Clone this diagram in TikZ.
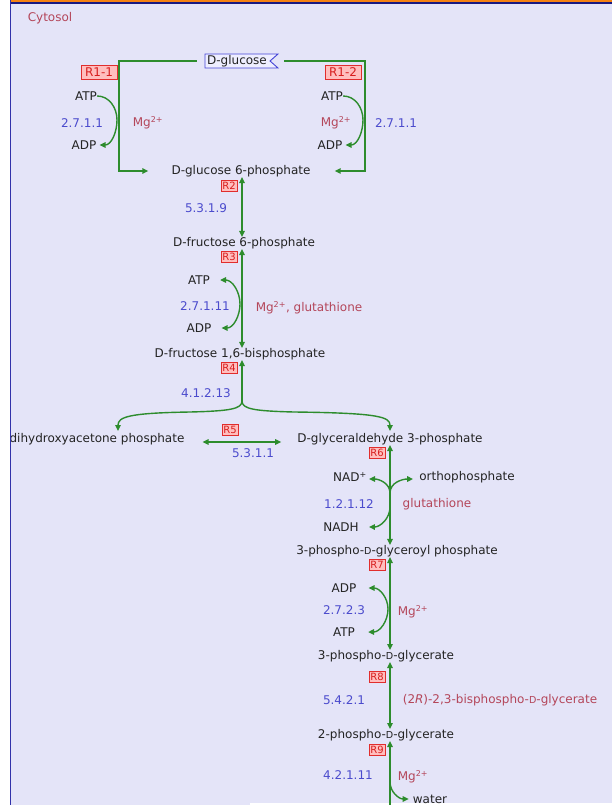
\documentclass[tikz,border=0pt]{standalone}
\usepackage{fontspec}
\setmainfont{DejaVu Sans}
\usetikzlibrary{arrows.meta}
\definecolor{bgc}{RGB}{228,228,248}
\definecolor{frameblue}{RGB}{50,50,170}
\definecolor{topblue}{RGB}{25,25,130}
\definecolor{toporange}{RGB}{245,130,20}
\definecolor{rxgreen}{RGB}{45,140,45}
\definecolor{ecblue}{RGB}{75,75,205}
\definecolor{cofred}{RGB}{180,70,90}
\definecolor{cpdtext}{RGB}{35,35,35}
\definecolor{rboxfill}{RGB}{255,190,190}
\definecolor{rboxdraw}{RGB}{225,45,45}
\definecolor{rboxtext}{RGB}{215,30,30}
\definecolor{glcblue}{RGB}{70,70,215}
\definecolor{glcfill}{RGB}{238,238,255}
\newcommand{\Dd}{{\fontsize{9.6}{10}\selectfont D}}
\begin{document}
\begin{tikzpicture}[x=1pt,y=-1pt,
  every node/.style={inner sep=0pt, font=\fontsize{12}{14}\selectfont},
  cpd/.style={text=cpdtext},
  ec/.style={text=ecblue},
  cof/.style={text=cofred},
  rlabel/.style={draw=rboxdraw, fill=rboxfill, text=rboxtext, line width=0.8pt,
     inner xsep=4pt, minimum height=14pt},
  rsmall/.style={draw=rboxdraw, fill=rboxfill, text=rboxtext, line width=0.8pt,
     inner xsep=1pt, minimum height=11.5pt, minimum width=16pt, font=\fontsize{10}{11}\selectfont},
  rx/.style={draw=rxgreen, line width=1.4pt},
  >={Triangle[length=6pt,width=5.5pt]},
]
\useasboundingbox (0,0) rectangle (612,805);
% background and frame
\fill[white] (0,0) rectangle (612,805);
\fill[bgc] (11,3.5) rectangle (612,805);
\fill[toporange] (11,0) rectangle (612,2);
\fill[topblue] (11,2) rectangle (612,3.8);
\fill[white] (250,803) rectangle (612,805);

\coordinate (lxa) at (119,0);
\coordinate (lxb) at (365,0);
\coordinate (lx1) at (242,0);
\coordinate (lx2) at (390,0);

\node[cof] (cyt) at (50,18) {Cytosol};

% D-glucose
\draw[glcblue, fill=glcfill, line width=0.9pt] (205,54) -- (278,54) -- (270,61) -- (278,68) -- (205,68) -- cycle;
\node[cpd] (glc) at (237,61) {D-glucose};

% R1
\node[rlabel] (r11) at (99,72.5) {R1-1};
\node[rlabel] (r12) at (343,72.5) {R1-2};
\node[cpd] (atp1) at (86,96) {ATP};
\node[ec] (ec1) at (82,123) {2.7.1.1};
\node[cof] (mg1) at (148,123) {Mg\textsuperscript{2+}};
\node[cpd] (adp1) at (84,145) {ADP};
\node[cpd] (atp2) at (332,96) {ATP};
\node[cof] (mg2) at (336,123) {Mg\textsuperscript{2+}};
\node[ec] (ec2) at (396,123) {2.7.1.1};
\node[cpd] (adp2) at (330,145) {ADP};
\node[cpd] (g6p) at (241,171) {D-glucose 6-phosphate};

\draw[rx,->] ([shift={(-10,0)}]glc.west) -| (lxa |- g6p.center) -- ([shift={(-23,0)}]g6p.west);
\draw[rx,->] ([shift={(17,0)}]glc.east) -| (lxb |- g6p.center) -- ([shift={(24,0)}]g6p.east);
\coordinate (k1) at (117,120);
\coordinate (k2) at (363,120);
\draw[rx,->] (atp1.east) to[out=0,in=90] (k1) to[out=-90,in=0] ([shift={(3,0)}]adp1.east);
\draw[rx,->] (atp2.east) to[out=0,in=90] (k2) to[out=-90,in=0] ([shift={(3,0)}]adp2.east);

% R2
\node[rsmall] (r2) at (229,186) {R2};
\node[ec] (ec3) at (206,208) {5.3.1.9};
\node[cpd] (f6p) at (244,243) {D-fructose 6-phosphate};
\draw[rx,<->] (g6p.south -| lx1) -- (f6p.north -| lx1);

% R3
\node[rsmall] (r3) at (229,257) {R3};
\node[cpd] (atp3) at (199,280) {ATP};
\node[ec] (ec4) at (205,306) {2.7.1.11};
\node[cof] (mg3) at (309,308) {Mg\textsuperscript{2+}, glutathione};
\node[cpd] (adp3) at (199,328) {ADP};
\node[cpd] (f16bp) at (240,354) {D-fructose 1,6-bisphosphate};
\draw[rx,<->] (f6p.south -| lx1) -- (f16bp.north -| lx1);
\coordinate (k3) at (240,304);
\draw[rx,<->] ([shift={(10,0)}]atp3.east) to[out=0,in=90] (k3) to[out=-90,in=0] ([shift={(10,0)}]adp3.east);

% R4
\node[rsmall] (r4) at (229,368) {R4};
\node[ec] (ec5) at (206,393) {4.1.2.13};
\coordinate (br) at (242,401);
\node[cpd] (dhap) at (97,439) {dihydroxyacetone phosphate};
\node[cpd] (gap) at (390,439) {D-glyceraldehyde 3-phosphate};
\coordinate (dl) at (118,431);
\coordinate (gl) at (390,431);
\draw[rx,<-] (f16bp.south -| lx1) -- (br);
\draw[rx,->] (br) .. controls (242,409) and (230,411) .. (190,412) .. controls (128,413) and (118,417) .. (dl);
\draw[rx,->] (br) .. controls (242,409) and (254,411) .. (294,412) .. controls (380,413) and (390,417) .. (gl);

% R5
\node[rsmall] (r5) at (230,430) {R5};
\draw[rx,<->] ([shift={(18,3)}]dhap.east) -- ([shift={(-16,3)}]gap.west);
\node[ec] (ec6) at (253,453) {5.3.1.1};

% R6
\node[rsmall] (r6) at (377,453) {R6};
\node[cpd] (gbp) at (397,551) {3-phospho-\Dd-glyceroyl phosphate};
\draw[rx,<->] (gap.south -| lx2) -- (gbp.north -| lx2);
\node[cpd] (nad) at (350,477) {NAD\textsuperscript{+}};
\node[cpd] (pi) at (467,477) {orthophosphate};
\node[ec] (ec7) at (349,504) {1.2.1.12};
\node[cof] (glu) at (437,504) {glutathione};
\node[cpd] (nadh) at (341,527) {NADH};
\coordinate (j6) at (390,493);
\coordinate (k6) at (390,507);
\draw[rx,->] (j6) to[out=90,in=0] ([shift={(2,2)}]nad.east);
\draw[rx,->] (j6) to[out=90,in=180] ([shift={(-6,2)}]pi.west);
\draw[rx,->] (k6) to[out=-90,in=0] ([shift={(10,0)}]nadh.east);

% R7
\node[rsmall] (r7) at (377,565) {R7};
\node[cpd] (adp7) at (344,588) {ADP};
\node[ec] (ec8) at (344,610) {2.7.2.3};
\node[cof] (mg7) at (413,612) {Mg\textsuperscript{2+}};
\node[cpd] (atp7) at (344,632) {ATP};
\node[cpd] (pg3) at (386,656) {3-phospho-\Dd-glycerate};
\draw[rx,<->] (gbp.south -| lx2) -- (pg3.north -| lx2);
\coordinate (k7) at (388,609);
\draw[rx,<->] ([shift={(12,0)}]adp7.east) to[out=0,in=90] (k7) to[out=-90,in=0] ([shift={(13,0)}]atp7.east);

% R8
\node[rsmall] (r8) at (377,677) {R8};
\node[ec] (ec9) at (344,700) {5.4.2.1};
\node[cof] (bpg) at (500,700) {(2\textit{R})-2,3-bisphospho-\Dd-glycerate};
\node[cpd] (pg2) at (386,735) {2-phospho-\Dd-glycerate};
\draw[rx,<->] (pg3.south -| lx2) -- (pg2.north -| lx2);

% R9
\node[rsmall] (r9) at (377,750) {R9};
\node[ec] (ec10) at (348,775) {4.2.1.11};
\node[cof] (mg9) at (413,777) {Mg\textsuperscript{2+}};
\node[cpd] (water) at (430,799) {water};
\coordinate (bot) at (390,805);
\coordinate (k9) at (390,782);
\draw[rx,<-] (pg2.south -| lx2) -- (bot);
\draw[rx,->] (k9) to[out=-90,in=180] ([shift={(-4,0)}]water.west);

% left frame line
\draw[frameblue, line width=1.3pt] (10.5,0) -- (10.5,805);
\end{tikzpicture}
\end{document}
